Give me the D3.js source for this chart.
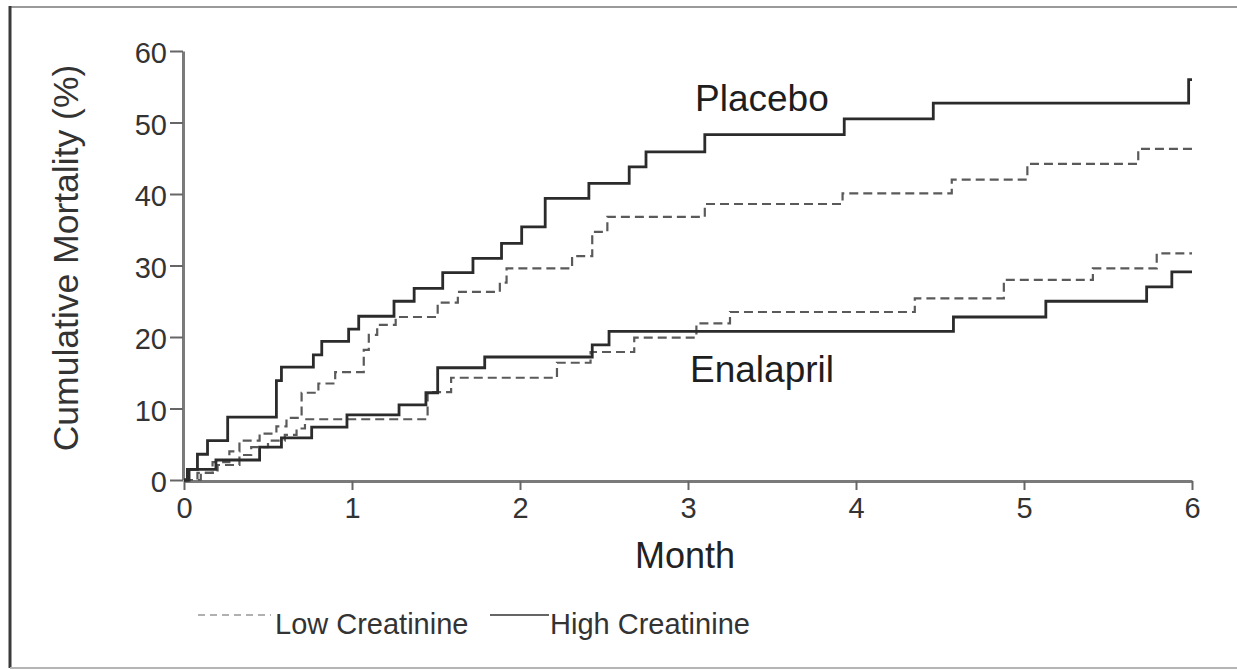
<!DOCTYPE html>
<html>
<head>
<meta charset="utf-8">
<script src="https://cdn.jsdelivr.net/npm/d3@7"></script>
<style>
  html, body { margin: 0; padding: 0; background: #fff; }
  svg { display: block; }
  text { font-family: "Liberation Sans", Arial, Helvetica, sans-serif; }
</style>
</head>
<body>
<svg id="chart" width="1237" height="670"></svg>
<script>
// Kaplan–Meier style cumulative mortality, months 0–6.
// Each series: event times (months) and cumulative mortality (%) after the event.
const placeboHighTimes  = [0, 0.02, 0.08, 0.14, 0.26, 0.55, 0.58, 0.77, 0.82, 0.98, 1.04, 1.25, 1.37, 1.54, 1.72, 1.89, 2.01, 2.15, 2.41, 2.65, 2.75, 3.10, 3.93, 4.46, 5.98, 6.0];
const placeboHighValues = [0, 1.5, 3.6, 5.5, 8.8, 13.9, 15.8, 17.5, 19.4, 21.1, 22.9, 25.0, 26.8, 29.0, 31.0, 33.1, 35.4, 39.4, 41.5, 43.8, 45.9, 48.3, 50.5, 52.7, 56.0, 56.0];

const placeboLowTimes  = [0, 0.08, 0.17, 0.27, 0.33, 0.45, 0.55, 0.61, 0.70, 0.80, 0.90, 1.07, 1.10, 1.15, 1.26, 1.51, 1.63, 1.88, 1.92, 2.31, 2.43, 2.52, 3.10, 3.92, 4.57, 5.02, 5.68, 6.0];
const placeboLowValues = [0, 1.0, 2.5, 4.0, 5.5, 6.5, 7.5, 8.7, 12.2, 13.5, 15.1, 18.2, 20.3, 21.7, 22.8, 24.8, 26.3, 27.6, 29.6, 31.3, 34.7, 36.8, 38.6, 40.1, 42.0, 44.2, 46.3, 46.3];

const enalaprilHighTimes  = [0, 0.03, 0.19, 0.45, 0.58, 0.76, 0.97, 1.28, 1.44, 1.51, 1.79, 2.43, 2.53, 4.58, 5.13, 5.73, 5.88, 6.0];
const enalaprilHighValues = [0, 1.5, 2.8, 4.6, 5.9, 7.4, 9.1, 10.5, 12.2, 15.7, 17.2, 18.9, 20.8, 22.8, 25.0, 27.0, 29.1, 29.1];

const enalaprilLowTimes  = [0, 0.10, 0.20, 0.33, 0.40, 0.50, 0.60, 0.67, 0.72, 1.45, 1.59, 2.22, 2.42, 2.68, 3.05, 3.25, 4.35, 4.88, 5.41, 5.79, 6.0];
const enalaprilLowValues = [0, 1.0, 2.1, 3.5, 4.6, 5.5, 6.3, 7.2, 8.5, 12.3, 14.3, 16.4, 17.9, 19.9, 21.9, 23.5, 25.4, 28.0, 29.6, 31.7, 31.7];

const xTicks = [0, 1, 2, 3, 4, 5, 6];
const yTicks = [0, 10, 20, 30, 40, 50, 60];

const groupLabels = ["Placebo", "Enalapril"];
const legendLabels = ["Low Creatinine", "High Creatinine"];

const svg = d3.select("#chart");

// Frame around the figure
const frame = svg.append("g");
frame.append("line").attr("x1", 10).attr("y1", 7).attr("x2", 1237).attr("y2", 7)
  .attr("stroke", "#9a9a9a").attr("stroke-width", 2);
frame.append("line").attr("x1", 10).attr("y1", 6).attr("x2", 10).attr("y2", 668)
  .attr("stroke", "#3a3a3a").attr("stroke-width", 3);
frame.append("line").attr("x1", 10).attr("y1", 668).attr("x2", 1237).attr("y2", 668)
  .attr("stroke", "#b5b5b5").attr("stroke-width", 2);

const x = d3.scaleLinear().domain([0, 6]).range([184, 1192]);
const y = d3.scaleLinear().domain([0, 60]).range([480, 51]);

// Axes
const xAxis = svg.append("g").attr("transform", "translate(0,481)")
  .call(d3.axisBottom(x).tickValues(xTicks).tickFormat(d3.format("d")).tickSize(9).tickPadding(7).tickSizeOuter(0));
const yAxis = svg.append("g").attr("transform", "translate(183,0)")
  .call(d3.axisLeft(y).tickValues(yTicks).tickFormat(d3.format("d")).tickSize(13).tickPadding(3).tickSizeOuter(0));

[xAxis, yAxis].forEach(g => {
  g.select(".domain").attr("stroke", "#7a7a7a").attr("stroke-width", 3);
  g.selectAll(".tick line").attr("stroke", "#666").attr("stroke-width", 2);
  g.selectAll(".tick text").attr("fill", "#333").attr("font-size", 29)
    .attr("font-family", "'Liberation Sans', Arial, sans-serif");
});
yAxis.selectAll(".tick text").attr("dy", "0.4em");

// Axis titles
svg.append("text").attr("x", 685).attr("y", 568).attr("text-anchor", "middle")
  .attr("font-size", 36).attr("fill", "#222").text("Month");
svg.append("text").attr("transform", "translate(78,258) rotate(-90)")
  .attr("text-anchor", "middle").attr("font-size", 35.5).attr("fill", "#333")
  .text("Cumulative Mortality (%)");

// Survival step curves
const step = d3.line().x(d => x(d[0])).y(d => y(d[1])).curve(d3.curveStepAfter);
const series = [
  { t: placeboLowTimes, v: placeboLowValues, dashed: true },
  { t: enalaprilLowTimes, v: enalaprilLowValues, dashed: true },
  { t: enalaprilHighTimes, v: enalaprilHighValues, dashed: false },
  { t: placeboHighTimes, v: placeboHighValues, dashed: false }
];
series.forEach(s => {
  const pts = s.t.map((t, i) => [t, s.v[i]]);
  svg.append("path").datum(pts).attr("d", step)
    .attr("fill", "none")
    .attr("stroke", s.dashed ? "#5a5a5a" : "#2b2b2b")
    .attr("stroke-width", s.dashed ? 2.2 : 2.8)
    .attr("stroke-dasharray", s.dashed ? "9,5" : null);
});

// Group labels
svg.append("text").attr("x", 695).attr("y", 111).attr("font-size", 37).attr("fill", "#1e1e1e").text(groupLabels[0]);
svg.append("text").attr("x", 690).attr("y", 382).attr("font-size", 37).attr("fill", "#1e1e1e").text(groupLabels[1]);

// Legend
const legend = svg.append("g");
legend.append("line").attr("x1", 198).attr("x2", 271).attr("y1", 615).attr("y2", 615)
  .attr("stroke", "#b0b0b0").attr("stroke-width", 2).attr("stroke-dasharray", "7,5");
legend.append("text").attr("x", 275).attr("y", 634).attr("font-size", 29).attr("fill", "#333").text(legendLabels[0]);
legend.append("line").attr("x1", 490).attr("x2", 549).attr("y1", 615).attr("y2", 615)
  .attr("stroke", "#666").attr("stroke-width", 2);
legend.append("text").attr("x", 550).attr("y", 634).attr("font-size", 29).attr("fill", "#333").text(legendLabels[1]);
</script>
</body>
</html>
